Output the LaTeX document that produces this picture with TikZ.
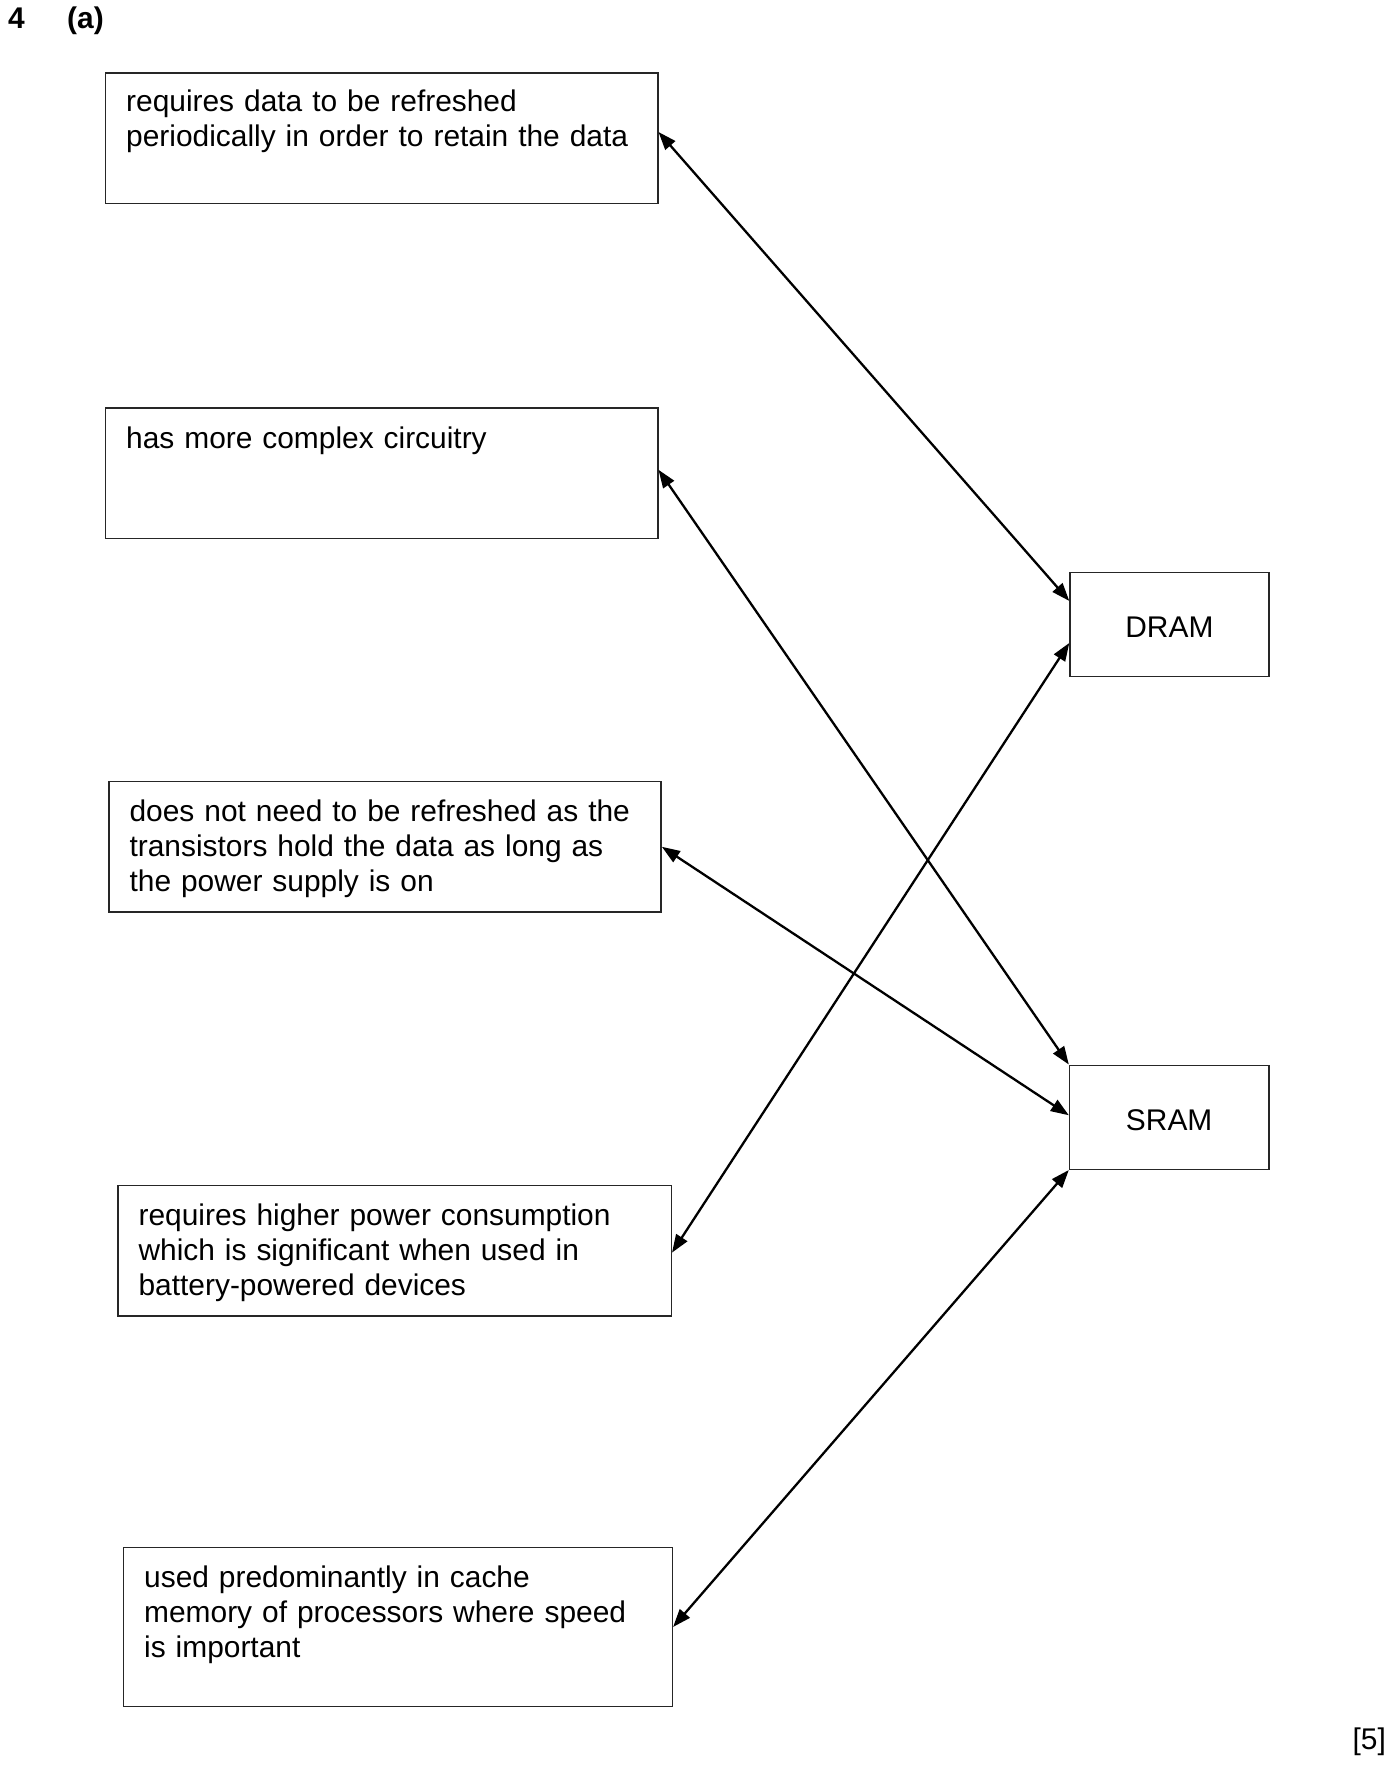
\documentclass[tikz,border=0pt]{standalone}
\usepackage{fontspec}
\setmainfont{Liberation Sans}
\usetikzlibrary{arrows.meta,calc}
\begin{document}
\begin{tikzpicture}[x=1pt,y=-1pt,
  box/.style={draw=black!85, line width=1.5pt, inner sep=0pt, anchor=north west},
  txt/.style={anchor=north west, inner sep=0pt, align=left, text width=600pt, font=\fontsize{29.9}{35}\selectfont},
  lbl/.style={font=\fontsize{29.9}{35}\selectfont},
  head/.style={anchor=base west, inner sep=0pt, font=\bfseries\fontsize{29.9}{35}\selectfont},
  link/.style={line width=2.3pt, {Triangle[length=18pt,width=13pt]}-{Triangle[length=18pt,width=13pt]}}]
\useasboundingbox (0,0) rectangle (1395,1765);

% heading
\node[head] (qnum) at (8,28) {4};
\node[head] (qpart) at (67,28) {(a)};

% left boxes
\node[box, minimum width=552.4pt, minimum height=130.5pt] (b1) at (104.6,72) {};
\node[txt] (t1) at ($(b1.north west)+(21.4,15)$) {\strut requires data to be refreshed\\periodically in order to retain the data};

\node[box, minimum width=552.4pt, minimum height=130.5pt] (b2) at (104.6,407.3) {};
\node[txt] (t2) at ($(b2.north west)+(21.4,16)$) {\strut has more complex circuitry};

\node[box, minimum width=552.4pt, minimum height=130.5pt] (b3) at (108,780.8) {};
\node[txt] (t3) at ($(b3.north west)+(21.4,16)$) {\strut does not need to be refreshed as the\\transistors hold the data as long as\\the power supply is on};

\node[box, minimum width=553.5pt, minimum height=130.5pt] (b4) at (117,1184.6) {};
\node[txt] (t4) at ($(b4.north west)+(21.4,16)$) {\strut requires higher power consumption\\which is significant when used in\\battery-powered devices};

\node[box, minimum width=549pt, minimum height=158.6pt] (b5) at (122.6,1546.9) {};
\node[txt] (t5) at ($(b5.north west)+(21.4,16)$) {\strut used predominantly in cache\\memory of processors where speed\\is important};

% right boxes
\node[box, minimum width=198.7pt, minimum height=104pt] (dram) at (1069.3,571.7) {};
\node[lbl, inner sep=0pt] (dramt) at ($(dram.center)+(0,2.5)$) {DRAM};
\node[box, minimum width=199.2pt, minimum height=104pt] (sram) at (1068.8,1064.5) {};
\node[lbl, inner sep=0pt] (sramt) at ($(sram.center)+(0,3)$) {SRAM};

% connectors
\draw[link] ($(b1.east)+(0,-6)$) -- ($(dram.west)+(0,-23.5)$);
\draw[link] ($(b2.east)+(0,-3.5)$) -- (sram.north west);
\draw[link] (b3.east) -- ($(sram.west)+(0,-2)$);
\draw[link] ($(b4.east)+(0,2)$) -- ($(dram.west)+(0,18.5)$);
\draw[link] (b5.east) -- (sram.south west);

% mark
\node[anchor=base east, inner sep=0pt, lbl] (mark) at (1386,1749) {[5]};
\end{tikzpicture}
\end{document}
